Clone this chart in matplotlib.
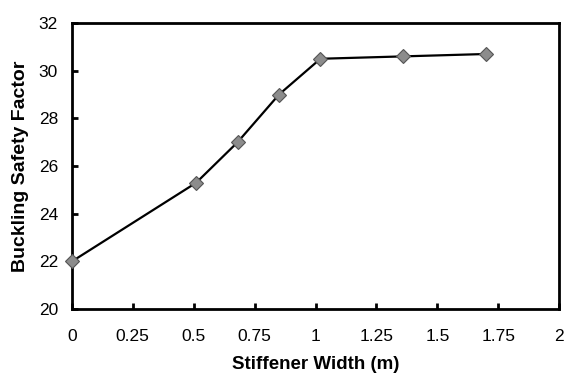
import matplotlib
matplotlib.use('Agg')
import matplotlib.pyplot as plt

plt.rcParams['font.family'] = ['Liberation Sans', 'DejaVu Sans']

# data
stiffener_width = [0, 0.51, 0.68, 0.85, 1.02, 1.36, 1.70]
safety_factor = [22.0, 25.3, 27.0, 29.0, 30.5, 30.6, 30.7]

x_ticks = [0, 0.25, 0.5, 0.75, 1, 1.25, 1.5, 1.75, 2]
x_tick_labels = ['0', '0.25', '0.5', '0.75', '1', '1.25', '1.5', '1.75', '2']
y_ticks = [20, 22, 24, 26, 28, 30, 32]

fig = plt.figure(figsize=(5.66, 3.77), dpi=100)
ax = fig.add_axes([0.127, 0.180, 0.861, 0.759])

ax.plot(stiffener_width, safety_factor, color='black', linewidth=1.6,
        marker='D', markersize=7, markerfacecolor='#8c8c8c',
        markeredgecolor='#555555', markeredgewidth=0.8, clip_on=False, zorder=3)

ax.set_xlim(0, 2)
ax.set_ylim(20, 32)
ax.set_xticks(x_ticks)
ax.set_xticklabels(x_tick_labels)
ax.set_yticks(y_ticks)

for side in ['left', 'bottom', 'top', 'right']:
    ax.spines[side].set_linewidth(2)
ax.tick_params(direction='in', length=4, width=2, labelsize=12.5)
ax.tick_params(axis='x', pad=14)
ax.tick_params(axis='y', pad=10)

ax.set_xlabel('Stiffener Width (m)', fontsize=13.5, fontweight='bold', labelpad=9)
ax.set_ylabel('Buckling Safety Factor', fontsize=14, fontweight='bold', labelpad=7)

plt.savefig('out.png', dpi=100)
